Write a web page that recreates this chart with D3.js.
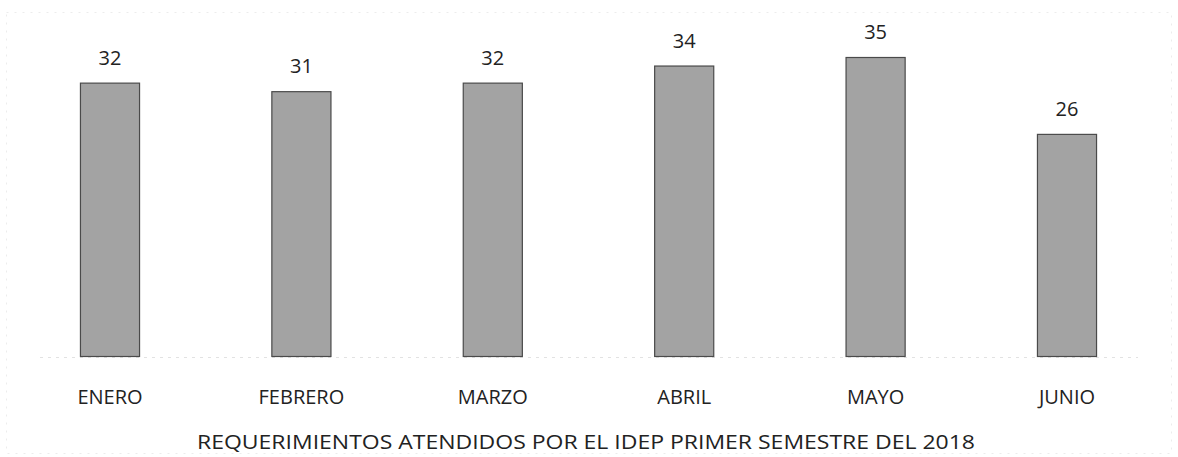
<!DOCTYPE html>
<html>
<head>
<meta charset="utf-8">
<script src="https://cdn.jsdelivr.net/npm/d3@7"></script>
<style>
  html, body { margin: 0; padding: 0; background: #fff; }
  svg { display: block; }
  text { font-family: "Open Sans", "Noto Sans", sans-serif; fill: #222; }
</style>
</head>
<body>
<svg id="chart" width="1178" height="457"></svg>
<script>
// chart data
const months = ['ENERO', 'FEBRERO', 'MARZO', 'ABRIL', 'MAYO', 'JUNIO'];
const requerimientos = [32, 31, 32, 34, 35, 26];
const chartTitle = 'REQUERIMIENTOS ATENDIDOS POR EL IDEP PRIMER SEMESTRE DEL 2018';

const svg = d3.select('#chart');
const width = 1178;
const height = 457;

const baseline = 356;   // y of the category axis
const barColor = '#a3a3a3';
const barStroke = '#4a4a4a';

// scales
const x = d3.scaleBand()
    .domain(months)
    .range([14.3, 1162.7])
    .paddingInner(0.686)
    .paddingOuter(0.343);

const y = d3.scaleLinear()
    .domain([0, 35])
    .range([baseline, 57]);

// faint chart border (scan remnant)
svg.append('rect')
    .attr('x', 6.5).attr('y', 12.5)
    .attr('width', width - 13).attr('height', height - 16)
    .attr('fill', 'none')
    .attr('stroke', '#ececec')
    .attr('stroke-dasharray', '2,6');

// faint baseline
svg.append('line')
    .attr('x1', 40).attr('x2', width - 40)
    .attr('y1', baseline + 1.5).attr('y2', baseline + 1.5)
    .attr('stroke', '#e2e2e2')
    .attr('stroke-dasharray', '3,5');

// bars
svg.selectAll('rect.bar')
    .data(requerimientos)
    .join('rect')
    .attr('class', 'bar')
    .attr('x', (d, i) => x(months[i]) + 0.5)
    .attr('y', d => y(d) + 0.5)
    .attr('width', x.bandwidth() - 1)
    .attr('height', d => baseline - y(d))
    .attr('fill', barColor)
    .attr('stroke', barStroke)
    .attr('stroke-width', 1.2);

// value labels
svg.selectAll('text.value')
    .data(requerimientos)
    .join('text')
    .attr('class', 'value')
    .attr('x', (d, i) => x(months[i]) + x.bandwidth() / 2)
    .attr('y', d => y(d) - 18)
    .attr('text-anchor', 'middle')
    .attr('font-size', 20)
    .text(d => d);

// category axis labels
const xAxis = d3.axisBottom(x).tickSize(0).tickPadding(0);
const axisG = svg.append('g')
    .attr('transform', `translate(0, ${baseline})`)
    .call(xAxis);
axisG.select('.domain').remove();
axisG.selectAll('text')
    .attr('dy', null)
    .attr('y', 48)
    .attr('font-size', 20)
    .attr('font-family', '"Open Sans", "Noto Sans", sans-serif')
    .attr('fill', '#222');

// title at the bottom
svg.append('text')
    .attr('x', 586)
    .attr('y', 449)
    .attr('text-anchor', 'middle')
    .attr('font-size', 20)
    .attr('textLength', 778)
    .attr('lengthAdjust', 'spacingAndGlyphs')
    .text(chartTitle);
</script>
</body>
</html>
